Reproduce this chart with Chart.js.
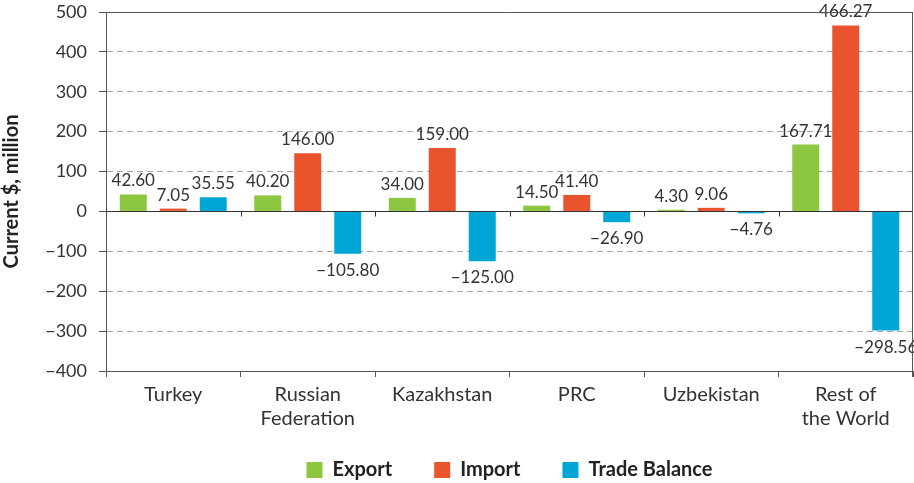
<!DOCTYPE html>
<html>
<head>
<meta charset="utf-8">
<script src="https://cdn.jsdelivr.net/npm/chart.js@4"></script>
<style>
  html, body { margin: 0; padding: 0; background: #fff; }
  #wrap { width: 914px; height: 483px; }
</style>
</head>
<body>
<div id="wrap"><canvas id="tradeChart" width="914" height="483"></canvas></div>
<script>
const countries = [
    'Turkey',
    ['Russian', 'Federation'],
    'Kazakhstan',
    'PRC',
    'Uzbekistan',
    ['Rest of', 'the World']
];

const exportVals = [42.60, 40.20, 34.00, 14.50, 4.30, 167.71];
const importVals = [7.05, 146.00, 159.00, 41.40, 9.06, 466.27];
const balanceVals = [35.55, -105.80, -125.00, -26.90, -4.76, -298.56];

const Colors = {
    GREEN: 'rgb(141, 198, 63)',
    ORANGE: 'rgb(233, 83, 45)',
    BLUE: 'rgb(0, 166, 214)',
    TEXT: '#333',
    AXIS: '#555',
    GRID: '#a6a6a6'
};

const FONT = 'Lato, "Open Sans", sans-serif';

function fmt(v) {
    // use a real minus sign like the print version
    return v < 0 ? '\u2212' + Math.abs(v).toFixed(2) : v.toFixed(2);
}

// value labels above / below each bar
const valueLabels = {
    id: 'valueLabels',
    afterDatasetsDraw(chart) {
        const ctx = chart.ctx;
        ctx.save();
        ctx.font = '17px ' + FONT;
        ctx.fillStyle = Colors.TEXT;
        ctx.textAlign = 'center';
        chart.data.datasets.forEach((ds, i) => {
            chart.getDatasetMeta(i).data.forEach((bar, j) => {
                const v = ds.data[j];
                if (v >= 0) {
                    ctx.textBaseline = 'bottom';
                    ctx.fillText(fmt(v), bar.x, bar.y - 5);
                } else {
                    ctx.textBaseline = 'top';
                    ctx.fillText(fmt(v), bar.x, bar.y + 8);
                }
            });
        });
        ctx.restore();
    }
};

// solid zero line, top frame line, right frame line and little ticks on the zero line
const frameLines = {
    id: 'frameLines',
    afterDatasetsDraw(chart) {
        const { ctx, chartArea, scales } = chart;
        const y0 = Math.round(scales.y.getPixelForValue(0)) + 0.5;
        ctx.save();
        ctx.lineWidth = 1;
        ctx.strokeStyle = '#333';
        ctx.beginPath();
        ctx.moveTo(chartArea.left, y0);
        ctx.lineTo(chartArea.right, y0);
        const half = (scales.x.getPixelForValue(1) - scales.x.getPixelForValue(0)) / 2;
        for (let i = 1; i < countries.length; i++) {
            const bx = Math.round(scales.x.getPixelForValue(i) - half) + 0.5;
            ctx.moveTo(bx, y0);
            ctx.lineTo(bx, y0 + 5);
        }
        ctx.stroke();
        ctx.strokeStyle = Colors.AXIS;
        ctx.beginPath();
        const yt = Math.round(chartArea.top) + 0.5;
        ctx.moveTo(chartArea.left, yt);
        ctx.lineTo(chartArea.right, yt);
        const xr = Math.round(chartArea.right) - 0.5;
        ctx.moveTo(xr, chartArea.top);
        ctx.lineTo(xr, chartArea.bottom + 6);
        ctx.stroke();
        ctx.restore();
    }
};

const tradeData = {
    labels: countries,
    datasets: [
        { label: 'Export', data: exportVals, backgroundColor: Colors.GREEN },
        { label: 'Import', data: importVals, backgroundColor: Colors.ORANGE },
        { label: 'Trade Balance', data: balanceVals, backgroundColor: Colors.BLUE }
    ]
};

const config = {
    type: 'bar',
    data: tradeData,
    plugins: [valueLabels, frameLines],
    options: {
        responsive: false,
        animation: false,
        layout: { padding: { top: 12, right: 1, left: 0, bottom: -7 } },
        datasets: {
            bar: { categoryPercentage: 0.892, barPercentage: 0.675 }
        },
        plugins: {
            tooltip: { enabled: false },
            legend: {
                position: 'bottom',
                fullSize: false,   // centre it under the plot, not the canvas
                labels: {
                    boxWidth: 16,
                    boxHeight: 16,
                    padding: 42,
                    color: '#222',
                    font: { family: FONT, size: 20, weight: 'bold' }
                }
            }
        },
        scales: {
            x: {
                offset: true,
                grid: {
                    offset: true,
                    drawOnChartArea: false,
                    drawTicks: true,
                    tickLength: 6,
                    tickColor: Colors.AXIS
                },
                border: { display: true, color: Colors.AXIS, width: 1 },
                ticks: {
                    color: Colors.TEXT,
                    padding: 6,
                    maxRotation: 0,
                    font: { family: FONT, size: 20, lineHeight: 1.2 }
                },
                afterFit(scale) {
                    scale.height = 47;
                    // two-line labels run into the legend band, don't clip them
                    scale._computeLabelArea = () => undefined;
                }
            },
            y: {
                min: -400,
                max: 500,
                ticks: {
                    stepSize: 100,
                    color: Colors.TEXT,
                    padding: 12,
                    font: { family: FONT, size: 18 },
                    callback: (v) => v < 0 ? '\u2212' + Math.abs(v) : String(v)
                },
                grid: {
                    color: (c) => (c.tick && (c.tick.value === 0 || c.tick.value === 500)) ? 'rgba(0,0,0,0)' : Colors.GRID,
                    tickColor: Colors.AXIS,
                    tickLength: 7,
                    tickBorderDash: [],
                    lineWidth: 1
                },
                border: { display: true, color: Colors.AXIS, dash: [6, 4] },
                title: {
                    display: true,
                    text: 'Current $, million',
                    color: '#222',
                    padding: { top: 0, bottom: 4 },
                    font: { family: FONT, size: 20, weight: 'bold' }
                },
                afterFit(scale) {
                    scale.width = 106;
                    scale.paddingTop = 0;
                    scale.paddingBottom = 0;
                }
            }
        }
    }
};

const tradeChart = new Chart(
    document.getElementById('tradeChart'),
    config
);
</script>
</body>
</html>
